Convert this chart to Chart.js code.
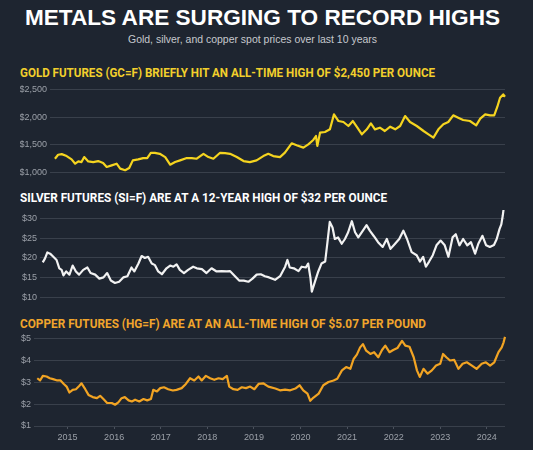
<!DOCTYPE html>
<html>
<head>
<meta charset="utf-8">
<script src="https://cdn.jsdelivr.net/npm/chart.js@4.4.1/dist/chart.umd.min.js"></script>
<style>
  html, body { margin: 0; padding: 0; }
  body {
    width: 533px; height: 450px; overflow: hidden; position: relative;
    background: #1e2530;
    font-family: "Liberation Sans", Arial, sans-serif;
  }
  .txt { position: absolute; white-space: nowrap; line-height: 1; transform-origin: 0 0; }
  #title { left: 25px; top: 7px; font-size: 22.5px; font-weight: bold; color: #ffffff; }
  #subtitle { left: 128px; top: 34px; font-size: 10.6px; color: #c6c9ce; }
  .head { left: 20px; font-family: Roboto, "Liberation Sans", sans-serif; font-weight: bold; font-size: 12.6px; }
  #goldHead { top: 67.2px; color: #f2cf2c; }
  #silverHead { top: 192px; color: #ffffff; }
  #copperHead { top: 318.4px; color: #f1a52c; }
  canvas { position: absolute; left: 0; }
</style>
</head>
<body>
<div id="title" class="txt" data-w="475">METALS ARE SURGING TO RECORD HIGHS</div>
<div id="subtitle" class="txt" data-w="249">Gold, silver, and copper spot prices over last 10 years</div>

<div id="goldHead" class="txt head" data-w="415">GOLD FUTURES (GC=F) BRIEFLY HIT AN ALL-TIME HIGH OF $2,450 PER OUNCE</div>
<canvas id="gold" width="533" height="100" style="top:81px"></canvas>

<div id="silverHead" class="txt head" data-w="367">SILVER FUTURES (SI=F) ARE AT A 12-YEAR HIGH OF $32 PER OUNCE</div>
<canvas id="silver" width="533" height="96" style="top:210px"></canvas>

<div id="copperHead" class="txt head" data-w="406">COPPER FUTURES (HG=F) ARE AT AN ALL-TIME HIGH OF $5.07 PER POUND</div>
<canvas id="copper" width="533" height="120" style="top:330px"></canvas>

<script>
// time axis: decimal years, May 2014 - May 2024
const xMin = 2014.28;
const xMax = 2024.39;
const yearTicks = [2015, 2016, 2017, 2018, 2019, 2020, 2021, 2022, 2023, 2024];

const goldTicks = [1000, 1500, 2000, 2500];
const silverTicks = [10, 15, 20, 25, 30];
const copperTicks = [1, 2, 3, 4, 5];

// gold, $/oz
const goldYears = [
  2014.39, 2014.46, 2014.54, 2014.65, 2014.76, 2014.84, 2014.91, 2014.98,
  2015.04, 2015.13, 2015.24, 2015.35, 2015.46, 2015.54, 2015.65, 2015.76, 2015.84, 2015.95,
  2016.04, 2016.12, 2016.24, 2016.35, 2016.44, 2016.52, 2016.61, 2016.72, 2016.84, 2016.95,
  2017.06, 2017.17, 2017.32, 2017.43, 2017.54, 2017.69, 2017.80, 2017.91,
  2018.06, 2018.17, 2018.28, 2018.43, 2018.58, 2018.72, 2018.87,
  2019.02, 2019.13, 2019.24, 2019.39, 2019.50, 2019.65, 2019.76, 2019.91,
  2020.02, 2020.13, 2020.19, 2020.22, 2020.28, 2020.39, 2020.50, 2020.59, 2020.69, 2020.80, 2020.91,
  2021.01, 2021.11, 2021.21, 2021.32, 2021.41, 2021.50, 2021.61, 2021.72, 2021.84, 2021.95,
  2022.06, 2022.17, 2022.28, 2022.43, 2022.58, 2022.69, 2022.80, 2022.91,
  2023.02, 2023.13, 2023.24, 2023.35, 2023.46, 2023.61, 2023.75, 2023.84, 2023.95,
  2024.06, 2024.15, 2024.22, 2024.28, 2024.35, 2024.39
];
const goldPrices = [
  1250, 1322, 1333, 1298, 1238, 1161, 1202, 1190,
  1280, 1202, 1190, 1208, 1173, 1101, 1131, 1161, 1071, 1042,
  1083, 1220, 1238, 1262, 1262, 1357, 1357, 1339, 1280, 1143,
  1190, 1220, 1262, 1262, 1250, 1339, 1280, 1250,
  1357, 1351, 1339, 1280, 1208, 1190, 1220,
  1298, 1339, 1298, 1280, 1360, 1528, 1492, 1450,
  1510, 1588, 1660, 1480, 1720, 1732, 1780, 2050, 1930, 1912, 1840,
  1930, 1810, 1690, 1780, 1888, 1780, 1810, 1750, 1828, 1780,
  1840, 2020, 1912, 1840, 1750, 1690, 1630, 1780,
  1870, 1912, 2032, 1990, 1948, 1930, 1852, 1972, 2050,
  2032, 2032, 2188, 2350, 2410, 2368
];

// silver, $/oz
const silverYears = [
  2014.34, 2014.39, 2014.44, 2014.50, 2014.57, 2014.64, 2014.70, 2014.75, 2014.79, 2014.85, 2014.92, 2014.99,
  2015.06, 2015.13, 2015.22, 2015.31, 2015.38, 2015.48, 2015.57, 2015.66, 2015.74, 2015.82, 2015.91,
  2016.00, 2016.09, 2016.18, 2016.27, 2016.33, 2016.42, 2016.49, 2016.56, 2016.63, 2016.71, 2016.78, 2016.85, 2016.93,
  2017.03, 2017.11, 2017.18, 2017.25, 2017.32, 2017.41, 2017.50, 2017.61, 2017.69, 2017.80, 2017.90,
  2018.01, 2018.12, 2018.23, 2018.34, 2018.41, 2018.52, 2018.61, 2018.71, 2018.81, 2018.90, 2018.99,
  2019.08, 2019.17, 2019.26, 2019.39, 2019.50, 2019.61, 2019.66, 2019.71, 2019.80, 2019.90, 2019.97,
  2020.06, 2020.11, 2020.16, 2020.19, 2020.26, 2020.33, 2020.40, 2020.48, 2020.53, 2020.58, 2020.64, 2020.69, 2020.76, 2020.84, 2020.91, 2020.98,
  2021.06, 2021.13, 2021.20, 2021.30, 2021.38, 2021.45, 2021.54, 2021.63, 2021.73, 2021.82, 2021.90,
  2022.00, 2022.09, 2022.18, 2022.26, 2022.36, 2022.47, 2022.54, 2022.61, 2022.67, 2022.74, 2022.82, 2022.90, 2022.99,
  2023.08, 2023.16, 2023.25, 2023.32, 2023.40, 2023.48, 2023.57, 2023.65, 2023.74, 2023.81, 2023.90, 2023.98,
  2024.06, 2024.15, 2024.21, 2024.27, 2024.31, 2024.34, 2024.36
];
const silverPrices = [
  18.9, 19.9, 21.4, 21.1, 20.3, 19.5, 17.4, 17.0, 15.6, 16.6, 15.8, 18.1,
  16.6, 15.8, 17.0, 17.6, 16.2, 15.8, 14.8, 15.1, 16.2, 14.3, 13.7,
  14.0, 15.1, 15.4, 17.6, 16.6, 18.6, 20.5, 20.0, 20.3, 18.6, 18.2, 16.6, 15.9,
  17.4, 18.1, 17.8, 18.4, 17.0, 16.2, 17.0, 17.8, 17.4, 17.2, 16.2,
  17.4, 16.6, 16.7, 16.6, 16.7, 15.4, 14.3, 14.3, 14.0, 14.8, 15.8,
  15.9, 15.4, 15.1, 14.5, 15.4, 17.8, 19.5, 17.6, 17.4, 16.7, 17.8,
  17.6, 18.6, 15.0, 11.5, 14.1, 16.6, 18.6, 19.1, 24.0, 29.1, 27.7, 24.8, 25.2, 23.6, 24.8, 26.5,
  29.3, 26.5, 25.2, 26.9, 28.3, 26.9, 25.5, 24.0, 22.8, 24.8, 22.3,
  23.6, 24.8, 26.9, 24.8, 21.5, 20.7, 19.1, 20.3, 17.8, 19.1, 20.7, 23.2, 24.4,
  23.2, 20.3, 25.2, 26.0, 23.2, 24.8, 23.2, 24.0, 21.1, 23.6, 25.6, 23.2,
  22.8, 23.3, 24.8, 27.3, 28.5, 30.6, 32.4
];

// copper, $/lb
const copperYears = [
  2014.35, 2014.41, 2014.47, 2014.55, 2014.62, 2014.69, 2014.78, 2014.85, 2014.92, 2014.98,
  2015.04, 2015.11, 2015.18, 2015.25, 2015.30, 2015.38, 2015.45, 2015.54, 2015.63, 2015.70, 2015.77, 2015.85, 2015.95,
  2016.02, 2016.09, 2016.16, 2016.23, 2016.31, 2016.38, 2016.45, 2016.54, 2016.63, 2016.71, 2016.79, 2016.84, 2016.92, 2016.99,
  2017.07, 2017.16, 2017.26, 2017.34, 2017.45, 2017.54, 2017.63, 2017.72, 2017.81, 2017.88, 2017.97,
  2018.06, 2018.15, 2018.24, 2018.33, 2018.42, 2018.47, 2018.56, 2018.65, 2018.74, 2018.83, 2018.92,
  2019.01, 2019.10, 2019.20, 2019.31, 2019.46, 2019.56, 2019.67, 2019.78, 2019.89, 2019.98,
  2020.06, 2020.15, 2020.21, 2020.28, 2020.39, 2020.49, 2020.60, 2020.71, 2020.79, 2020.89, 2020.98,
  2021.07, 2021.14, 2021.21, 2021.28, 2021.34, 2021.41, 2021.50, 2021.58, 2021.67, 2021.75, 2021.82, 2021.91, 2021.99,
  2022.08, 2022.18, 2022.25, 2022.34, 2022.43, 2022.50, 2022.56, 2022.64, 2022.73, 2022.82, 2022.91,
  2023.00, 2023.06, 2023.13, 2023.21, 2023.30, 2023.39, 2023.48, 2023.57, 2023.68, 2023.78, 2023.89, 2023.98,
  2024.07, 2024.16, 2024.25, 2024.32, 2024.36, 2024.39
];
const copperPrices = [
  3.18, 3.08, 3.29, 3.26, 3.18, 3.14, 3.08, 3.08, 2.92, 2.80,
  2.53, 2.65, 2.68, 2.83, 2.95, 2.68, 2.42, 2.32, 2.27, 2.38, 2.23, 2.05, 2.05,
  1.97, 2.08, 2.27, 2.32, 2.17, 2.12, 2.20, 2.12, 2.23, 2.17, 2.23, 2.65, 2.58, 2.73,
  2.77, 2.68, 2.62, 2.65, 2.73, 2.92, 3.18, 3.08, 3.26, 3.08, 3.29,
  3.18, 3.11, 3.18, 3.14, 3.29, 2.80, 2.68, 2.65, 2.77, 2.73, 2.80,
  2.68, 2.92, 2.95, 2.80, 2.71, 2.63, 2.66, 2.63, 2.71, 2.86,
  2.63, 2.48, 2.15, 2.30, 2.48, 2.86, 3.01, 3.08, 3.16, 3.54, 3.69,
  3.61, 4.06, 4.26, 4.59, 4.74, 4.44, 4.29, 4.37, 4.14, 4.47, 4.67, 4.37, 4.47,
  4.56, 4.89, 4.67, 4.62, 4.14, 3.54, 3.24, 3.61, 3.39, 3.54, 3.76,
  3.84, 4.29, 4.14, 3.99, 4.02, 3.61, 3.84, 3.91, 3.76, 3.61, 3.84, 3.91,
  3.76, 3.91, 4.37, 4.59, 4.82, 5.07
];

Chart.defaults.font.family = '"Liberation Sans", Arial, sans-serif';
Chart.defaults.font.size = 9;
Chart.defaults.color = '#9ba0a8';

function priceChart(id, years, prices, color, ticks, axisWidth, showYears) {
  var points = years.map(function (x, i) { return { x: x, y: prices[i] }; });
  var xAxis = {
    type: 'linear',
    min: xMin,
    max: xMax,
    display: showYears,
    afterBuildTicks: function (s) { s.ticks = yearTicks.map(function (v) { return { value: v }; }); },
    grid: { drawOnChartArea: false, tickLength: 3, color: '#4b525d' },
    border: { display: false },
    ticks: { padding: 3, maxRotation: 0, callback: function (v) { return String(v); } }
  };
  if (showYears) {
    xAxis.afterFit = function (s) { s.height = 24; };
  }
  return new Chart(document.getElementById(id), {
    type: 'line',
    data: {
      datasets: [{
        data: points,
        borderColor: color,
        borderWidth: 2.2,
        borderJoinStyle: 'round',
        pointRadius: 0,
        tension: 0,
        clip: false
      }]
    },
    options: {
      responsive: false,
      animation: false,
      events: [],
      layout: { padding: { left: 20, right: 28, top: 8, bottom: showYears ? 0 : 8 } },
      plugins: { legend: { display: false }, tooltip: { enabled: false } },
      scales: {
        x: xAxis,
        y: {
          min: ticks[0],
          max: ticks[ticks.length - 1],
          afterBuildTicks: function (s) { s.ticks = ticks.map(function (v) { return { value: v }; }); },
          afterFit: function (s) { s.width = axisWidth; },
          grid: { color: '#39404b', drawTicks: false },
          border: { display: false },
          ticks: { padding: 3, callback: function (v) { return '$' + v.toLocaleString('en-US'); } }
        }
      }
    }
  });
}

priceChart('gold', goldYears, goldPrices, '#f5d41f', goldTicks, 30, false);
priceChart('silver', silverYears, silverPrices, '#f2f2f2', silverTicks, 20, false);
priceChart('copper', copperYears, copperPrices, '#f2a423', copperTicks, 14, true);

// squeeze the headings to the widths they have in the graphic
document.querySelectorAll('.txt').forEach(function (el) {
  var k = Number(el.dataset.w) / el.getBoundingClientRect().width;
  el.style.transform = 'scaleX(' + k + ')';
});
</script>
</body>
</html>
